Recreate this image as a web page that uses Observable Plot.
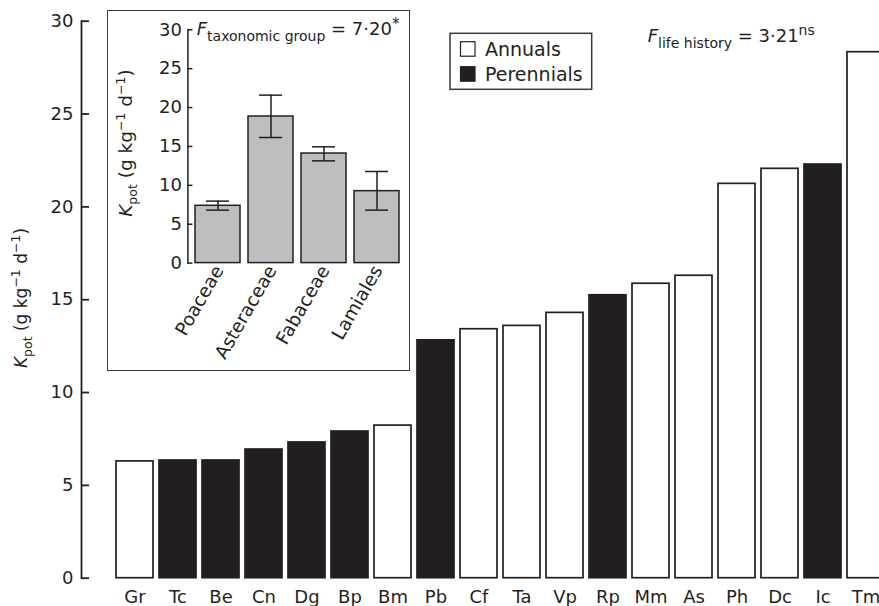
<!DOCTYPE html>
<html>
<head>
<meta charset="utf-8">
<script src="https://cdn.jsdelivr.net/npm/d3@7"></script>
<script src="https://cdn.jsdelivr.net/npm/@observablehq/plot@0.6"></script>
<style>
  body { margin: 0; overflow: hidden; background: white; }
  #chart { position: relative; width: 879px; height: 606px; overflow: hidden; }
</style>
</head>
<body>
<div id="chart"></div>
<script>
// ---- Main chart data ----
const species = ["Gr","Tc","Be","Cn","Dg","Bp","Bm","Pb","Cf","Ta","Vp","Rp","Mm","As","Ph","Dc","Ic","Tm"];
const kpot = [6.29, 6.34, 6.34, 6.93, 7.31, 7.90, 8.22, 12.81, 13.41, 13.59, 14.29, 15.24, 15.86, 16.29, 21.24, 22.05, 22.28, 28.33];
const lifeHistory = ["Annual","Perennial","Perennial","Perennial","Perennial","Perennial","Annual","Perennial","Annual","Annual","Annual","Perennial","Annual","Annual","Annual","Annual","Perennial","Annual"];
const yTicks = [0, 5, 10, 15, 20, 25, 30];
const legendLabels = ["Annuals", "Perennials"];

// ---- Inset data ----
const groups = ["Poaceae","Asteraceae","Fabaceae","Lamiales"];
const groupMean = [7.37, 18.85, 14.09, 9.25];
const groupLow  = [6.81, 16.15, 13.15, 6.81];
const groupHigh = [7.97, 21.60, 14.95, 11.78];

const ink = "#231f20";

const mainData = species.map((s, i) => ({sp: s, k: kpot[i], life: lifeHistory[i]}));
const groupData = groups.map((g, i) => ({g, m: groupMean[i], lo: groupLow[i], hi: groupHigh[i]}));

const main = Plot.plot({
  width: 879, height: 606,
  marginTop: 20.7, marginBottom: 28.3, marginLeft: 81, marginRight: 0,
  style: {fontFamily: "DejaVu Sans", fontSize: "18px", color: ink, background: "white"},
  x: {domain: species, range: [105.2, 894.7], padding: 0.15, label: null},
  y: {domain: [0, 30], label: null},
  color: {type: "ordinal", domain: ["Annual","Perennial"], range: ["white", ink]},
  marks: [
    Plot.barY(mainData, {x: "sp", y: "k", fill: "life", stroke: ink, strokeWidth: 1.7}),
    Plot.frame({anchor: "left", stroke: ink, strokeWidth: 1.8}),
    Plot.axisY(yTicks, {tickSize: 8, dx: 8, fill: "none", stroke: ink, strokeWidth: 1.8, label: null}),
    Plot.axisY(yTicks, {tickSize: 0, tickPadding: 8, stroke: "none", fontSize: 18, label: null}),
    Plot.axisX({tickSize: 0, tickPadding: 12.5, fontSize: 18, label: null})
  ]
});
main.style.position = "absolute";
main.style.left = "0px";
main.style.top = "0px";
document.getElementById("chart").appendChild(main);

const inset = Plot.plot({
  width: 303, height: 361,
  marginTop: 19.3, marginBottom: 108.4, marginLeft: 80.4, marginRight: 0,
  style: {fontFamily: "DejaVu Sans", fontSize: "18px", color: ink, background: "white"},
  x: {domain: groups, range: [79.2, 299.7], padding: 0.16, label: null},
  y: {domain: [0, 30], label: null},
  marks: [
    Plot.barY(groupData, {x: "g", y: "m", fill: "#bcbec0", stroke: ink, strokeWidth: 1.5}),
    Plot.ruleX(groupData, {x: "g", y1: "lo", y2: "hi", stroke: ink, strokeWidth: 1.5}),
    Plot.tickY(groupData, {x: "g", y: "lo", stroke: ink, strokeWidth: 1.5, insetLeft: 11, insetRight: 11}),
    Plot.tickY(groupData, {x: "g", y: "hi", stroke: ink, strokeWidth: 1.5, insetLeft: 11, insetRight: 11}),
    Plot.frame({anchor: "left", stroke: ink, strokeWidth: 1.5}),
    Plot.axisY(yTicks, {tickSize: 5, dx: 5, fill: "none", stroke: ink, strokeWidth: 1.5, label: null}),
    Plot.axisY(yTicks, {tickSize: 0, tickPadding: 6, stroke: "none", fontSize: 18, label: null}),
    Plot.axisX({tickSize: 0, tickPadding: 4, dx: 1, tickRotate: -60, textAnchor: "end", lineAnchor: "middle", fontSize: 18.5, label: null})
  ]
});
inset.style.position = "absolute";
inset.style.left = "107px";
inset.style.top = "10px";
inset.style.outline = "1.5px solid #3a3a3a";
inset.style.outlineOffset = "-1px";
document.getElementById("chart").appendChild(inset);

// rich text helper: parts = [{t, size, shift, italic}]
function richText(svg, x, y, parts, {rotate = 0, anchor = "start", size = 18} = {}) {
  const t = d3.select(svg).append("text")
    .attr("transform", `translate(${x},${y}) rotate(${rotate})`)
    .attr("text-anchor", anchor)
    .attr("fill", ink)
    .attr("font-family", "DejaVu Sans")
    .attr("font-size", size);
  let cur = 0;
  for (const p of parts) {
    const s = p.shift || 0;
    const ts = t.append("tspan").text(p.t).attr("dy", s - cur);
    cur = s;
    if (p.size) ts.attr("font-size", p.size);
    if (p.italic) ts.attr("font-style", "italic");
  }
  return t;
}

const kLabel = [
  {t: "K", italic: true},
  {t: "pot", size: 12.5, shift: 5},
  {t: " (g kg"},
  {t: "−1", size: 12.5, shift: -7},
  {t: " d"},
  {t: "−1", size: 12.5, shift: -7},
  {t: ")"}
];

// main y label
richText(main, 27, 298, kLabel, {rotate: -90, anchor: "middle", size: 17});
// inset y label
richText(inset, 24.7, 133, kLabel, {rotate: -90, anchor: "middle", size: 18.5});

// F taxonomic group
richText(inset, 89.7, 25, [
  {t: "F", italic: true},
  {t: "taxonomic group", size: 14, shift: 6},
  {t: " = 7·20"},
  {t: "*", size: 15, shift: -6}
], {size: 18});

// F life history
richText(main, 647.7, 42, [
  {t: "F", italic: true},
  {t: "life history", size: 14, shift: 6},
  {t: " = 3·21"},
  {t: "ns", size: 14, shift: -7}
], {size: 18});

// legend
const lg = d3.select(main).append("g").attr("text-anchor", "start");
lg.append("rect").attr("x", 450).attr("y", 33.3).attr("width", 141.7).attr("height", 56)
  .attr("fill", "white").attr("stroke", "#3a3a3a").attr("stroke-width", 1.5);
const legendFill = ["white", ink];
const legendY = [41.7, 66.7];
legendLabels.forEach((lab, i) => {
  lg.append("rect").attr("x", 460.5).attr("y", legendY[i]).attr("width", 14.5).attr("height", 14.5)
    .attr("fill", legendFill[i]).attr("stroke", ink).attr("stroke-width", 1.2);
  lg.append("text").attr("x", 485).attr("y", legendY[i] + 14.3).text(lab)
    .attr("text-anchor", "start")
    .attr("fill", ink).attr("font-family", "DejaVu Sans").attr("font-size", 19);
});
</script>
</body>
</html>
